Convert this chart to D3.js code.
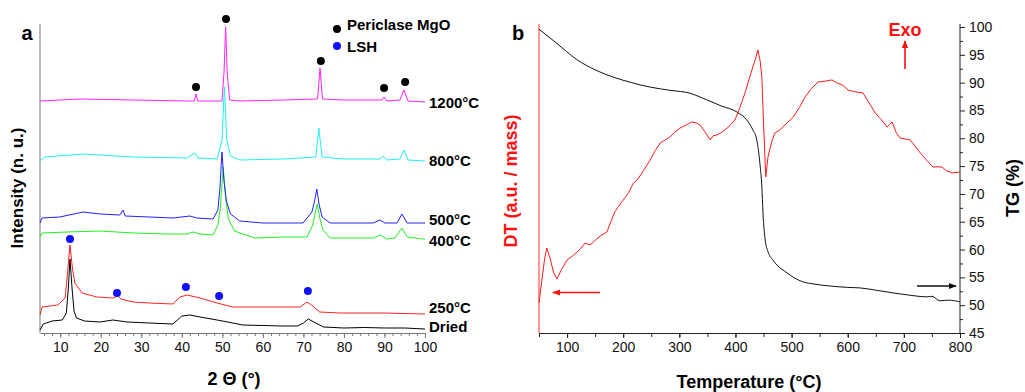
<!DOCTYPE html>
<html><head><meta charset="utf-8">
<script src="https://cdn.jsdelivr.net/npm/d3@7"></script>
<style>
body{margin:0;background:#fff;}
svg{font-family:"Liberation Sans",Arial,sans-serif;}
</style></head>
<body><svg id="c" width="1025" height="392"></svg>
<script>
// ---------- Panel a : XRD (2θ, stacked intensity in n.u.) ----------
const xrdDried = [[5,3],[5.8,9],[8,12],[10.5,13],[11.5,20],[12.0,45],[12.4,74],[12.9,45],[13.4,22],[14,15],[16,12],[19.8,11],[23,13],[26.5,11],[32,10],[37.8,9],[40,17],[42,18],[44.5,16],[48.7,13],[52.6,10],[55,8],[60,7.5],[65,7],[68.5,7],[70,10],[71.2,14],[73,10],[75,6],[80,5],[85,5.5],[90,5],[95,5],[100,4]];
const xrd250 = [[5,18],[5.5,26],[9.4,28],[11.2,35],[11.8,60],[12.4,88],[13.0,65],[13.6,50],[15.4,40],[19,36],[23,35],[24.2,37],[25,34],[28,31],[32,30],[37.8,29],[39.5,36],[41.3,38],[44.5,35],[48.7,30],[52.6,26],[55,26],[60,26],[65,26],[69.2,26],[70.9,31],[72,28],[74,21],[79,20],[85,20],[90,20],[100,19]];
const xrd400 = [[5,96],[5.5,100],[11.7,101],[19.8,102],[28,100],[36.3,99],[41.3,99],[42.8,101],[44.5,99],[47.7,98],[48.9,108],[49.5,125],[50.2,166],[50.8,135],[51.5,114],[53,102],[58,95],[65,96],[70.9,96],[72.3,108],[72.9,120],[73.4,129],[74.0,116],[74.8,103],[76.6,95],[87.2,95],[88.9,98],[90.6,94],[92.6,95],[94.3,105],[95.6,96],[99.5,94],[100,94]];
const xrd500 = [[5,110],[5.5,115],[9.9,116],[15.6,121],[19.8,119],[24.7,118],[25.5,123],[26,117],[32.1,116],[37.8,115],[42,117],[43.7,115],[47.7,114],[48.9,123],[49.4,145],[49.9,181],[50.4,152],[51,132],[52,119],[54.3,112],[60,110],[69.9,110],[72.1,121],[72.8,133],[73.3,144],[73.9,128],[74.6,116],[76.6,110],[87.2,110],[88.9,113],[90.1,110],[93.1,110],[94.3,119],[95.6,110],[100,110]];
const xrd800 = [[5,172],[6.2,176],[15.6,179],[28,176],[41.3,175],[43.2,180],[44,175],[48.7,174],[49.9,193],[50.5,246],[51.1,193],[52,177],[54.3,173],[65,174],[73.1,176],[73.8,205],[74.6,176],[80,174],[88.9,174],[89.6,177],[90.6,173],[93.8,174],[94.8,183],[95.8,173],[100,172]];
const xrd1200 = [[5,232],[14.9,234],[28,233],[41.3,232],[43.1,232],[43.5,239],[43.9,232],[49.9,232],[50.4,260],[50.8,306],[51.2,260],[51.8,233],[54.3,232],[65,233],[73.5,234],[74.1,265],[74.7,234],[80,233],[89.4,233],[89.9,236],[90.6,232],[93.8,233],[94.8,243],[95.8,232],[100,231]];
const xrdLabels = ["Dried","250°C","400°C","500°C","800°C","1200°C"];
const xrdLabelPos = [7,26,93,114,173,231];
const periclaseMarks = [[43.5,246],[50.9,314],[74.3,272],[89.9,245],[95.1,251]];
const lshMarks = [[12.4,94],[24,40],[41,46],[49.2,37],[71.1,42]];
const xrdTicksMajor = [10,20,30,40,50,60,70,80,90,100];

// ---------- Panel b : DT / TG ----------
const tgData = [[50,99.6],[80,97.2],[118,94.1],[150,92.3],[182,91.0],[215,90],[248,89.2],[285,88.6],[319,88.1],[335,87.5],[349,86.9],[375,85.8],[403,84.7],[420,83.3],[431,81.5],[438,79.7],[444,75],[447,71.3],[449,66.6],[453,61.7],[458,59.6],[466,58.2],[474,57.2],[492,55.8],[505,54.9],[520,54.2],[540,53.8],[563,53.5],[600,53.2],[622,53.1],[650,52.7],[681,52.2],[710,51.8],[741,51.5],[750,51.6],[764,50.8],[780,50.9],[800,50.6]];
const dtData = [[50,9.7],[55,17],[60,24],[64,27.5],[70,24],[76,19.5],[82,17.5],[90,20.5],[100,23.6],[110,25],[118,26.2],[125,27.5],[132,29.1],[141,28.5],[150,30],[160,31.5],[171,32.7],[178,36],[185,39.2],[192,41],[200,43.0],[210,45.5],[218,48.5],[225,49.5],[236,52.5],[248,56.0],[257,59],[266,61.5],[275,62.5],[283,63.4],[292,65],[301,66.3],[312,67.3],[322,68.3],[330,68],[337,67.3],[346,65.0],[355,62.5],[360,63.8],[367,64.1],[376,65],[385,66.3],[392,67.5],[399,68.9],[408,73],[417,77.7],[424,82],[431,86.1],[436,89],[440,91.6],[444,88],[447,82.8],[450,68],[454,50.5],[458,57.0],[464,61.5],[470,64.7],[479,65.7],[492,68.0],[503,69.9],[514,73],[524,76.4],[535,79],[547,81.2],[560,81.5],[572,81.9],[580,81],[590,80.3],[601,78.6],[614,78],[627,77.7],[638,74.5],[649,71.2],[660,69],[670,66.7],[675,67.5],[679,68.3],[686,65],[693,63.1],[702,62.8],[711,62.5],[720,60.5],[729,58.3],[740,56],[752,53.7],[760,53.8],[768,53.7],[776,52.5],[786,51.8],[800,52.1]];
const tempTicksMajor = [100,200,300,400,500,600,700,800];
const tgTicksMajor = [45,50,55,60,65,70,75,80,85,90,95,100];

const svg = d3.select("#c");
const FONT = '"Liberation Sans",Arial,sans-serif';

// ===== Panel a =====
const xa = d3.scaleLinear().domain([5,100]).range([40,425]);
const ya = d3.scaleLinear().domain([0,309]).range([333,24]);
const lineA = d3.line().x(d=>xa(d[0])).y(d=>ya(d[1]));
const gA = svg.append("g");

const axA = gA.append("g").attr("transform","translate(0,333)");
axA.call(d3.axisBottom(xa).tickValues(d3.range(6,101,2)).tickSize(3).tickFormat(""));
axA.call(g=>g.selectAll("path").remove());
const axA2 = gA.append("g").attr("transform","translate(0,333)")
  .call(d3.axisBottom(xa).tickValues(xrdTicksMajor).tickSize(5).tickPadding(4).tickSizeOuter(0));
[axA, axA2].forEach(g=>{
  g.selectAll("line").attr("stroke","#777");
  g.selectAll("path").attr("stroke","#777");
  g.selectAll("text").attr("font-size",14).attr("font-family",FONT).attr("fill","#111");
});
gA.append("line").attr("x1",40).attr("x2",40).attr("y1",24).attr("y2",333).attr("stroke","#777");

const seriesA = [
  {d:xrdDried,c:"#000000"},
  {d:xrd250,c:"#ff2020"},
  {d:xrd400,c:"#22ee22"},
  {d:xrd500,c:"#2222ff"},
  {d:xrd800,c:"#22f0f0"},
  {d:xrd1200,c:"#ff22ff"}
];
[5,4,2,3,0,1].forEach(i=>{
  gA.append("path").datum(seriesA[i].d).attr("d",lineA)
    .attr("fill","none").attr("stroke",seriesA[i].c).attr("stroke-width",1);
});
xrdLabels.forEach((t,i)=>{
  gA.append("text").attr("x",429).attr("y",ya(xrdLabelPos[i])+5.5)
    .attr("font-size",15).attr("font-weight","bold").attr("font-family",FONT).text(t);
});
gA.selectAll("circle.p").data(periclaseMarks).enter().append("circle")
  .attr("cx",d=>xa(d[0])).attr("cy",d=>ya(d[1])).attr("r",4).attr("fill","#000");
gA.selectAll("circle.l").data(lshMarks).enter().append("circle")
  .attr("cx",d=>xa(d[0])).attr("cy",d=>ya(d[1])).attr("r",4).attr("fill","#1010ff");
gA.append("circle").attr("cx",337).attr("cy",29).attr("r",4).attr("fill","#000");
gA.append("text").attr("x",347).attr("y",29.5).attr("font-size",15).attr("font-weight","bold").attr("font-family",FONT).text("Periclase MgO");
gA.append("circle").attr("cx",337).attr("cy",46).attr("r",4).attr("fill","#1010ff");
gA.append("text").attr("x",347).attr("y",51.5).attr("font-size",15).attr("font-weight","bold").attr("font-family",FONT).text("LSH");
gA.append("text").attr("x",27).attr("y",40).attr("text-anchor","middle").attr("font-size",20).attr("font-weight","bold").attr("font-family",FONT).text("a");
gA.append("text").attr("x",234).attr("y",385).attr("text-anchor","middle").attr("font-size",18).attr("font-weight","bold").attr("font-family",FONT).text("2 Θ (°)");
gA.append("text").attr("transform","translate(23,188) rotate(-90)").attr("text-anchor","middle").attr("font-size",17).attr("font-weight","bold").attr("font-family",FONT).text("Intensity (n. u.)");

// ===== Panel b =====
const xb = d3.scaleLinear().domain([50,800]).range([539,960]);
const yTG = d3.scaleLinear().domain([45,100]).range([333,27]);
const yDT = d3.scaleLinear().domain([0,100]).range([333,24]);
const gB = svg.append("g");

const axB1 = gB.append("g").attr("transform","translate(0,333)")
  .call(d3.axisBottom(xb).tickValues(d3.range(50,801,50)).tickSize(4).tickFormat("").tickSizeOuter(0));
const axB2 = gB.append("g").attr("transform","translate(0,333)")
  .call(d3.axisBottom(xb).tickValues(tempTicksMajor).tickSize(5).tickPadding(4).tickSizeOuter(0));
axB2.select("path").remove();
const axTG1 = gB.append("g").attr("transform","translate(960,0)")
  .call(d3.axisRight(yTG).tickValues(d3.range(47.5,100,5)).tickSize(3).tickFormat("").tickSizeOuter(0));
axTG1.select("path").attr("d","M0,24V333");
const axTG2 = gB.append("g").attr("transform","translate(960,0)")
  .call(d3.axisRight(yTG).tickValues(tgTicksMajor).tickSize(5).tickPadding(4).tickSizeOuter(0));
axTG2.select("path").remove();
[axB1,axB2,axTG1,axTG2].forEach(g=>{
  g.selectAll("line").attr("stroke","#222");
  g.selectAll("path").attr("stroke","#222");
  g.selectAll("text").attr("font-size",14).attr("font-family",FONT).attr("fill","#111");
});
gB.append("line").attr("x1",539).attr("x2",539).attr("y1",24).attr("y2",333).attr("stroke","#ff3030");

gB.append("path").datum(tgData).attr("d",d3.line().curve(d3.curveMonotoneX).x(d=>xb(d[0])).y(d=>yTG(d[1])))
  .attr("fill","none").attr("stroke","#111").attr("stroke-width",1);
gB.append("path").datum(dtData).attr("d",d3.line().x(d=>xb(d[0])).y(d=>yDT(d[1])))
  .attr("fill","none").attr("stroke","#ff1a1a").attr("stroke-width",1);

const defs = svg.append("defs");
function marker(id,color){
  defs.append("marker").attr("id",id).attr("viewBox","0 0 10 10").attr("refX",9).attr("refY",5)
    .attr("markerWidth",5).attr("markerHeight",5).attr("orient","auto-start-reverse")
    .append("path").attr("d","M0,1L10,5L0,9Z").attr("fill",color);
}
marker("ar","#ff1010"); marker("ab","#111");
gB.append("line").attr("x1",600).attr("y1",292.5).attr("x2",553).attr("y2",292.5).attr("stroke","#ff1010").attr("stroke-width",1.6).attr("marker-end","url(#ar)");
gB.append("line").attr("x1",917).attr("y1",286).attr("x2",956).attr("y2",286).attr("stroke","#111").attr("stroke-width",1.6).attr("marker-end","url(#ab)");
gB.append("line").attr("x1",905).attr("y1",69).attr("x2",905).attr("y2",41).attr("stroke","#ff1010").attr("stroke-width",1.6).attr("marker-end","url(#ar)");
gB.append("text").attr("x",905).attr("y",36).attr("text-anchor","middle").attr("font-size",18).attr("font-weight","bold").attr("fill","#ff1010").attr("font-family",FONT).text("Exo");
gB.append("text").attr("x",518).attr("y",40).attr("text-anchor","middle").attr("font-size",20).attr("font-weight","bold").attr("font-family",FONT).text("b");
gB.append("text").attr("x",749).attr("y",388).attr("text-anchor","middle").attr("font-size",18).attr("font-weight","bold").attr("font-family",FONT).text("Temperature (°C)");
gB.append("text").attr("transform","translate(517,181) rotate(-90)").attr("text-anchor","middle").attr("font-size",18).attr("font-weight","bold").attr("fill","#ff1010").attr("font-family",FONT).text("DT (a.u. / mass)");
gB.append("text").attr("transform","translate(1019,188) rotate(-90)").attr("text-anchor","middle").attr("font-size",18).attr("font-weight","bold").attr("font-family",FONT).text("TG (%)");
</script></body></html>
